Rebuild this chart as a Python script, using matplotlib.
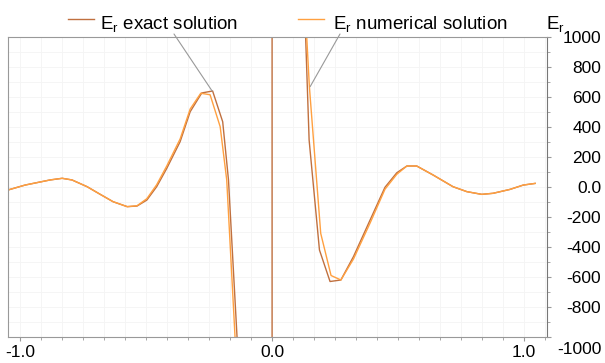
import matplotlib
matplotlib.use("Agg")
import matplotlib.pyplot as plt
from matplotlib.lines import Line2D
from matplotlib.ticker import FuncFormatter, MultipleLocator, FixedLocator
from matplotlib.transforms import ScaledTranslation

plt.rcParams["font.family"] = ["Liberation Sans", "DejaVu Sans"]
plt.rcParams["mathtext.default"] = "regular"
plt.rcParams["axes.unicode_minus"] = False

NAN = float("nan")

# E_r exact solution; the jump at 0 is the singularity
X_EXACTA = [-1.048, -0.98, -0.881, -0.833, -0.794, -0.734, -0.683, -0.631, -0.575, -0.536,
            -0.497, -0.458, -0.418, -0.365, -0.325, -0.279, -0.236, -0.196, -0.173, -0.13,
            0.0, 0.0, 0.12, 0.147, 0.188, 0.23, 0.273, 0.323, 0.389, 0.448, 0.495, 0.535,
            0.574, 0.639, 0.718, 0.773, 0.832, 0.877, 0.944, 0.997, 1.044]
Y_EXACTA = [-20, 13, 47, 58, 47, 2, -48, -98, -131, -127,
            -87, 2, 124, 302, 502, 627, 640, 435, 47, -1280,
            -10000, 10000, 1650, 313, -420, -630, -620, -464, -220, -2, 95, 140,
            140, 80, 2, -31, -49, -42, -16, 13, 24]

# E_r numerical solution
X_NUMERICA = [-1.048, -0.98, -0.881, -0.833, -0.794, -0.734, -0.683, -0.631, -0.575, -0.536,
              -0.497, -0.458, -0.418, -0.365, -0.325, -0.283, -0.246, -0.206, -0.18, -0.13,
              NAN, 0.12, 0.148, 0.193, 0.234, 0.273, 0.323, 0.389, 0.448, 0.495, 0.535,
              0.574, 0.639, 0.718, 0.773, 0.832, 0.877, 0.944, 0.997, 1.044]
Y_NUMERICA = [-20, 13, 47, 58, 47, 2, -48, -98, -131, -125,
              -78, 15, 140, 320, 520, 625, 615, 402, 47, -1540,
              NAN, 1550, 669, -309, -590, -620, -480, -240, -15, 85, 140,
              140, 80, 2, -31, -49, -42, -16, 13, 24]

X_TICKS = [-1.0, 0.0, 1.0]
Y_TICKS = [-1000, -800, -600, -400, -200, 0, 200, 400, 600, 800, 1000]

ETIQ_EXACTA = "E$_r$ exact solution"
ETIQ_NUMERICA = "E$_r$ numerical solution"

COLOR_EXACTA = "#c0703f"
COLOR_NUMERICA = "#ffa040"
GRIS = "#999999"


def formato_y(v, _pos):
    return "0.0" if v == 0 else f"{v:.0f}"


def main() -> None:
    fig = plt.figure(figsize=(6.05, 3.63), dpi=100)
    ax = fig.add_axes([8 / 605, 26 / 363, 539 / 605, 300 / 363])

    ax.plot(X_EXACTA, Y_EXACTA, color=COLOR_EXACTA, lw=1.0)
    ax.plot(X_NUMERICA, Y_NUMERICA, color=COLOR_NUMERICA, lw=1.0)

    ax.set_xlim(-1.048, 1.091)
    ax.set_ylim(-1000, 1000)

    ax.xaxis.set_major_locator(FixedLocator(X_TICKS))
    ax.xaxis.set_major_formatter(FuncFormatter(lambda v, p: f"{v:.1f}"))
    ax.xaxis.set_minor_locator(MultipleLocator(1 / 12))
    ax.yaxis.set_major_locator(FixedLocator(Y_TICKS))
    ax.yaxis.set_major_formatter(FuncFormatter(formato_y))
    ax.yaxis.set_minor_locator(MultipleLocator(100))
    ax.yaxis.tick_right()

    ax.tick_params(axis="both", which="major", labelsize=12.5, length=3, color=GRIS)
    ax.tick_params(axis="both", which="minor", length=2, color=GRIS)
    ax.tick_params(axis="x", pad=3)
    ax.tick_params(axis="y", pad=36)
    etiquetas_y = ax.get_yticklabels()
    for lab in etiquetas_y:
        lab.set_horizontalalignment("right")
    # the lowest label sits a bit under the frame, as in the original
    etiquetas_y[0].set_transform(etiquetas_y[0].get_transform()
                                 + ScaledTranslation(0, -0.11, fig.dpi_scale_trans))

    ax.grid(which="both", color="#f4f4f4", lw=0.6)
    ax.set_axisbelow(True)
    for lado, sp in ax.spines.items():
        sp.set_color("#777777" if lado == "right" else GRIS)
        sp.set_linewidth(0.8)

    # legend drawn by hand above the plot, with callout lines to the curves
    fig.add_artist(Line2D([68 / 605, 94 / 605], [344 / 363, 344 / 363], color=COLOR_EXACTA, lw=1.0))
    fig.add_artist(Line2D([298 / 605, 324 / 605], [344 / 363, 344 / 363], color=COLOR_NUMERICA, lw=1.0))
    fig.text(100 / 605, 334 / 363, ETIQ_EXACTA, fontsize=13.5, va="baseline")
    fig.text(333 / 605, 334 / 363, ETIQ_NUMERICA, fontsize=13.5, va="baseline")
    fig.text(546 / 605, 334 / 363, "E$_r$", fontsize=13.5, va="baseline")

    flecha = dict(arrowstyle="-", color=GRIS, lw=0.8, shrinkA=0, shrinkB=0)
    ax.annotate("", xy=(-0.238, 640), xytext=(174, 329), textcoords="figure pixels",
                arrowprops=flecha, annotation_clip=False)
    ax.annotate("", xy=(0.151, 669), xytext=(340, 329), textcoords="figure pixels",
                arrowprops=flecha, annotation_clip=False)

    fig.savefig("out.png", dpi=100)
    plt.close(fig)


if __name__ == "__main__":
    main()
